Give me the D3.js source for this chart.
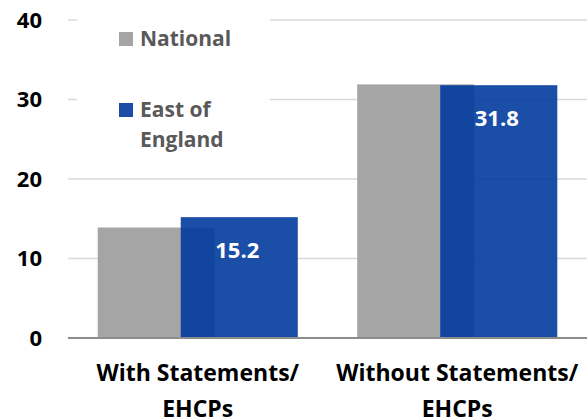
<!DOCTYPE html>
<html lang="en">
<head>
<meta charset="UTF-8">
<title>Statements / EHCPs</title>
<script src="https://d3js.org/d3.v7.min.js"></script>
<style>
  body { margin: 0; background: #fff; font-family: "Open Sans", "Noto Sans", sans-serif; }
  svg text { font-weight: 700; }
</style>
</head>
<body>
<div id="chart"></div>
<script>
  // data
  const categories = [["With Statements/", "EHCPs"], ["Without Statements/", "EHCPs"]];
  const categoryKeys = ["with", "without"];
  const series = ["National", "East of England"];
  const national = [13.9, 31.9];
  const eastOfEngland = [15.2, 31.8];
  const yTicks = [0, 10, 20, 30, 40];

  const W = 587, H = 420;
  const plot = { left: 68, right: 587, top: 20, bottom: 338 };
  const colors = { "National": "#a5a5a5", "East of England": "#023b9d" };

  const svg = d3.select("#chart").append("svg")
      .attr("width", W).attr("height", H);

  const x0 = d3.scaleBand().domain(categoryKeys)
      .range([plot.left, plot.right])
      .paddingInner(0.229).paddingOuter(0.1145);
  const barW = x0.bandwidth() * 0.585;
  const x1 = d3.scalePoint().domain(series).range([0, x0.bandwidth() - barW]);
  const y = d3.scaleLinear().domain([0, 40]).range([plot.bottom, plot.top]);

  // gridlines
  svg.append("g").selectAll("line")
    .data(yTicks.filter(d => d > 0))
    .enter().append("line")
    .attr("x1", plot.left).attr("x2", plot.right)
    .attr("y1", d => y(d)).attr("y2", d => y(d))
    .attr("stroke", "#d9d9d9").attr("stroke-width", 1.5);

  // y tick labels
  svg.append("g").selectAll("text")
    .data(yTicks)
    .enter().append("text")
    .attr("x", 42).attr("y", d => y(d))
    .attr("dy", "0.36em")
    .attr("text-anchor", "end")
    .style("font-size", "22px")
    .attr("fill", "#000")
    .text(d => d);

  const rows = categoryKeys.map((k, i) => ({ key: k, values: [national[i], eastOfEngland[i]] }));

  const groups = svg.append("g").selectAll("g")
    .data(rows)
    .enter().append("g")
    .attr("transform", d => `translate(${x0(d.key)},0)`);

  groups.selectAll("rect")
    .data(d => series.map((s, j) => ({ s, v: d.values[j] })))
    .enter().append("rect")
    .attr("x", d => x1(d.s))
    .attr("y", d => y(d.v))
    .attr("width", barW)
    .attr("height", d => y(0) - y(d.v))
    .attr("fill", d => colors[d.s])
    .attr("fill-opacity", d => d.s === "National" ? 1 : 0.9);

  // data labels on East of England bars
  groups.append("text")
    .attr("x", x1("East of England") + barW / 2 - 2)
    .attr("y", d => y(d.values[1]) + 41)
    .attr("text-anchor", "middle")
    .attr("fill", "#fff")
    .style("font-size", "22px")
    .text(d => d.values[1].toFixed(1));

  // baseline
  svg.append("line")
    .attr("x1", plot.left).attr("x2", plot.right)
    .attr("y1", y(0)).attr("y2", y(0))
    .attr("stroke", "#8c8c8c").attr("stroke-width", 2);

  // category labels
  const xl = svg.append("g").selectAll("text")
    .data(categoryKeys)
    .enter().append("text")
    .attr("x", d => x0(d) + x0.bandwidth() / 2)
    .attr("y", 381)
    .attr("text-anchor", "middle")
    .attr("fill", "#000")
    .style("font-size", "23px");
  xl.each(function (d, i) {
    const t = d3.select(this);
    categories[i].forEach((line, k) => {
      t.append("tspan")
        .attr("x", x0(d) + x0.bandwidth() / 2)
        .attr("dy", k === 0 ? 0 : 36)
        .text(line);
    });
  });

  // legend (white box over gridlines)
  const legend = svg.append("g");
  legend.append("rect")
    .attr("x", 77).attr("y", 8).attr("width", 193).attr("height", 155)
    .attr("fill", "#fff");
  const legendRows = [
    { name: "National", lines: ["National"], y: 46 },
    { name: "East of England", lines: ["East of", "England"], y: 117 }
  ];
  legendRows.forEach(r => {
    legend.append("rect")
      .attr("x", 119).attr("y", r.y - 14)
      .attr("width", 14).attr("height", 14)
      .attr("fill", colors[r.name])
      .attr("fill-opacity", r.name === "National" ? 1 : 0.9);
    const t = legend.append("text")
      .attr("x", 140).attr("y", r.y)
      .attr("fill", "#595959")
      .style("font-size", "21px");
    r.lines.forEach((line, k) => {
      t.append("tspan").attr("x", 140).attr("dy", k === 0 ? 0 : 30).text(line);
    });
  });
</script>
</body>
</html>
